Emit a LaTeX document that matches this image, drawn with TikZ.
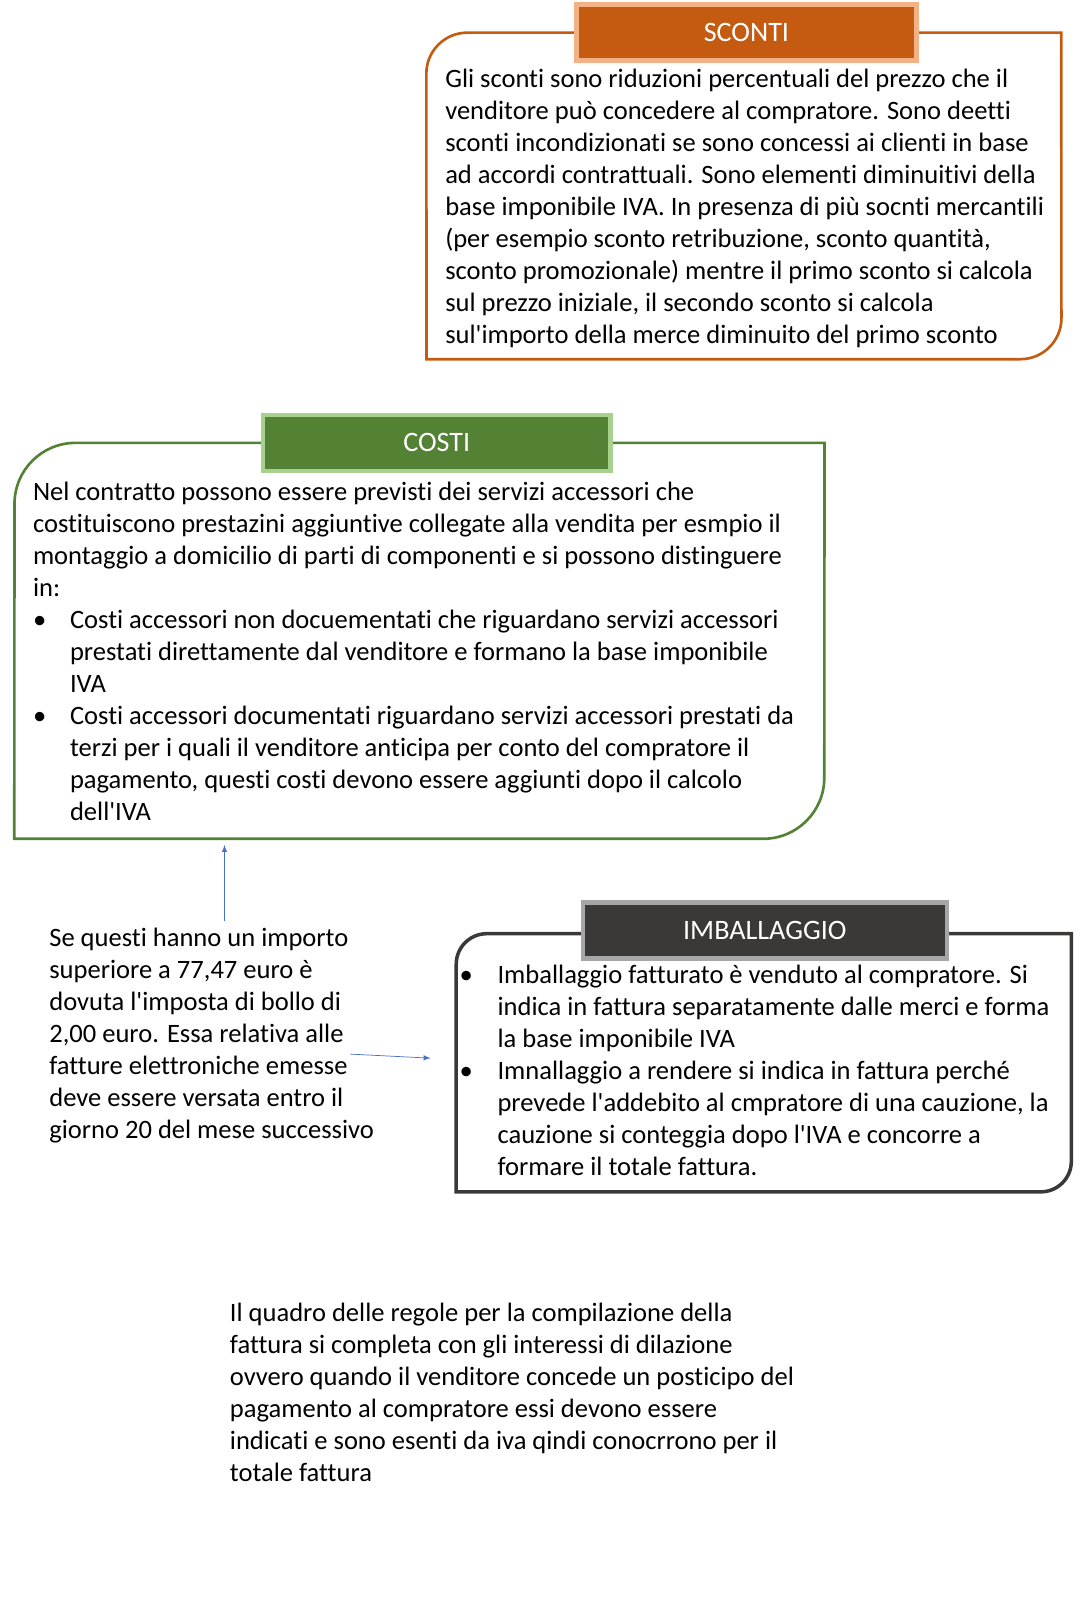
\documentclass[tikz,border=0pt]{standalone}
\usepackage{fontspec}
\setmainfont{Carlito}[Ligatures={NoCommon}]
\definecolor{scontiorange}{HTML}{C55A11}
\definecolor{scontiedge}{HTML}{F4B183}
\definecolor{costigreen}{HTML}{548235}
\definecolor{costiedge}{HTML}{A9D18E}
\definecolor{imbdark}{HTML}{3B3838}
\definecolor{imbedge}{HTML}{A6A6A6}
\definecolor{arrowblue}{HTML}{4472C4}
\tikzset{
  titlebox/.style={draw, line width=2.5pt, text=white, inner sep=0pt, font=\fontsize{16}{18}\selectfont},
  bodytext/.style={anchor=north west, inner sep=0pt, align=left, font=\fontsize{15.1}{18.2}\selectfont},
  link/.style={->, >=latex, arrowblue, thin}
}
\newcommand{\bul}{\makebox[0.74cm][l]{\textbullet}}
\newcommand{\ind}{\hspace*{0.74cm}}
\newcommand{\q}{\textquotesingle}
\begin{document}
\begin{tikzpicture}[x=0.0204cm, y=-0.0204cm]
\useasboundingbox (0,0) rectangle (1058,1568);
% sconti
\draw[scontiorange, line width=1.5pt] (565,32) -- (458,32) arc[start angle=90, end angle=180, radius=0.82cm]
  -- (418,352) -- (1000,352) arc[start angle=270, end angle=360, radius=0.82cm] -- (1040,32) -- (898,32);
\node[titlebox, fill=scontiorange, draw=scontiedge, minimum width=6.8cm, minimum height=1.12cm] (sconti) at (731.5,32) {SCONTI};
\node[bodytext] (scontitext) at (436,67) {Gli sconti sono riduzioni percentuali del prezzo che il\\
venditore può concedere al compratore. Sono deetti\\
sconti incondizionati se sono concessi ai clienti in base\\
ad accordi contrattuali. Sono elementi diminuitivi della\\
base imponibile IVA. In presenza di più socnti mercantili\\
(per esempio sconto retribuzione, sconto quantità,\\
sconto promozionale) mentre il primo sconto si calcola\\
sul prezzo iniziale, il secondo sconto si calcola\\
sul\q importo della merce diminuito del primo sconto};
% costi
\draw[costigreen, line width=1.5pt] (258,434) -- (74,434) arc[start angle=90, end angle=180, radius=1.22cm]
  -- (14,822) -- (748,822) arc[start angle=270, end angle=360, radius=1.22cm] -- (808,434) -- (598,434);
\node[titlebox, fill=costigreen, draw=costiedge, minimum width=6.94cm, minimum height=1.12cm] (costi) at (428,434) {COSTI};
\node[bodytext] (costitext) at (32,472) {Nel contratto possono essere previsti dei servizi accessori che\\
costituiscono prestazini aggiuntive collegate alla vendita per esmpio il\\
montaggio a domicilio di parti di componenti e si possono distinguere\\
in:\\
\bul Costi accessori non docuementati che riguardano servizi accessori\\
\ind prestati direttamente dal venditore e formano la base imponibile\\
\ind IVA\\
\bul Costi accessori documentati riguardano servizi accessori prestati da\\
\ind terzi per i quali il venditore anticipa per conto del compratore il\\
\ind pagamento, questi costi devono essere aggiunti dopo il calcolo\\
\ind dell\q IVA};
% imballaggio
\draw[imbdark, line width=2pt] (571,915) -- (477,915) arc[start angle=90, end angle=180, radius=0.61cm]
  -- (447,1168) -- (1020,1168) arc[start angle=270, end angle=360, radius=0.61cm] -- (1050,915) -- (928,915);
\node[titlebox, fill=imbdark, draw=imbedge, minimum width=7.28cm, minimum height=1.12cm] (imb) at (749.5,912) {IMBALLAGGIO};
\node[bodytext] (imbtext) at (450,945) {\makebox[0.76cm][l]{\textbullet}Imballaggio fatturato è venduto al compratore. Si\\
\hspace*{0.76cm}indica in fattura separatamente dalle merci e forma\\
\hspace*{0.76cm}la base imponibile IVA\\
\makebox[0.76cm][l]{\textbullet}Imnallaggio a rendere si indica in fattura perché\\
\hspace*{0.76cm}prevede l\q addebito al cmpratore di una cauzione, la\\
\hspace*{0.76cm}cauzione si conteggia dopo l\q IVA e concorre a\\
\hspace*{0.76cm}formare il totale fattura.};
% bollo
\node[bodytext] (bollo) at (48,909) {Se questi hanno un importo\\
superiore a 77,47 euro è\\
dovuta l\q imposta di bollo di\\
2,00 euro. Essa relativa alle\\
fatture elettroniche emesse\\
deve essere versata entro il\\
giorno 20 del mese successivo};
\coordinate (bolloup) at (220,903);
\coordinate (costibase) at (220,828);
\coordinate (bolloright) at (343,1033);
\coordinate (imbleft) at (422,1037);
\draw[link] (bolloup) -- (costibase);
\draw[link] (bolloright) -- (imbleft);
% interessi
\node[bodytext] (interessi) at (225,1277) {Il quadro delle regole per la compilazione della\\
fattura si completa con gli interessi di dilazione\\
ovvero quando il venditore concede un posticipo del\\
pagamento al compratore essi devono essere\\
indicati e sono esenti da iva qindi conocrrono per il\\
totale fattura};
\end{tikzpicture}
\end{document}
